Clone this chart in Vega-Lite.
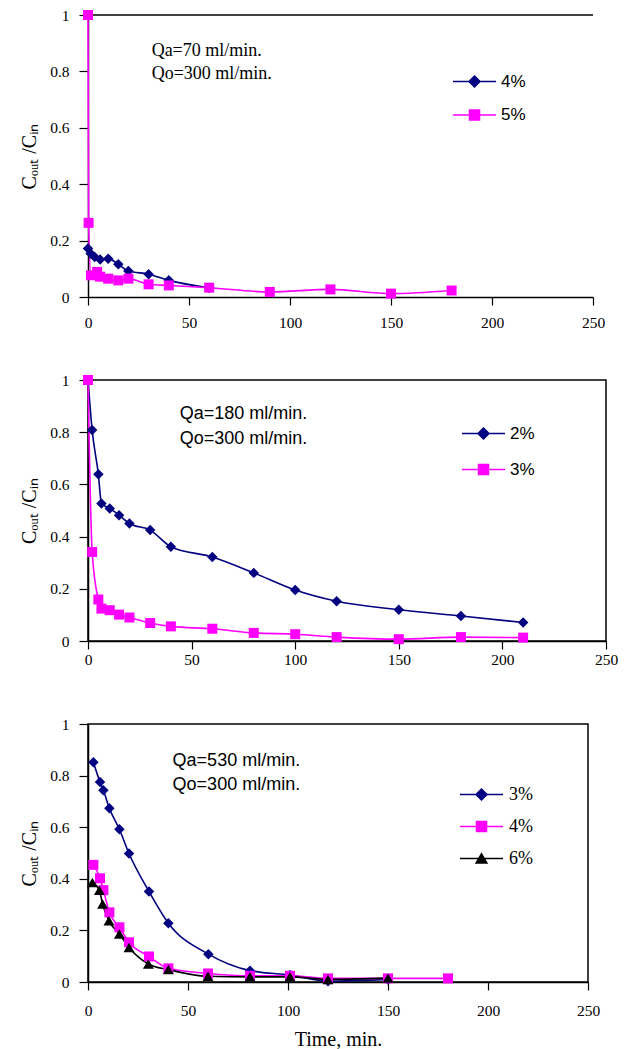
{
  "$schema": "https://vega.github.io/schema/vega-lite/v6.json",
  "padding": {"left": 18, "top": 8, "right": 5, "bottom": 2},
  "background": "white",
  "bounds": "flush",
  "spacing": 83,
  "datasets": {
    "p1": [
      {"t": 0, "c": 0.172, "s": "4%"}, {"t": 1.3, "c": 0.154, "s": "4%"}, {"t": 3.3, "c": 0.142, "s": "4%"},
      {"t": 6, "c": 0.133, "s": "4%"}, {"t": 10, "c": 0.136, "s": "4%"}, {"t": 15, "c": 0.116, "s": "4%"},
      {"t": 20, "c": 0.092, "s": "4%"}, {"t": 30, "c": 0.081, "s": "4%"}, {"t": 40, "c": 0.059, "s": "4%"},
      {"t": 60, "c": 0.033, "s": "4%"},
      {"t": 0, "c": 1.0, "s": "5%"}, {"t": 0.3, "c": 0.263, "s": "5%"}, {"t": 1.5, "c": 0.077, "s": "5%"},
      {"t": 4.5, "c": 0.089, "s": "5%"}, {"t": 6, "c": 0.072, "s": "5%"}, {"t": 10, "c": 0.065, "s": "5%"},
      {"t": 15, "c": 0.059, "s": "5%"}, {"t": 20, "c": 0.065, "s": "5%"}, {"t": 30, "c": 0.045, "s": "5%"},
      {"t": 40, "c": 0.041, "s": "5%"}, {"t": 60, "c": 0.033, "s": "5%"}, {"t": 90, "c": 0.018, "s": "5%"},
      {"t": 120, "c": 0.027, "s": "5%"}, {"t": 150, "c": 0.012, "s": "5%"}, {"t": 180, "c": 0.023, "s": "5%"}
    ],
    "p2": [
      {"t": 0, "c": 1.0, "s": "2%"}, {"t": 2, "c": 0.808, "s": "2%"}, {"t": 5, "c": 0.639, "s": "2%"},
      {"t": 6.5, "c": 0.527, "s": "2%"}, {"t": 10.5, "c": 0.508, "s": "2%"}, {"t": 15, "c": 0.482, "s": "2%"},
      {"t": 20, "c": 0.45, "s": "2%"}, {"t": 30, "c": 0.425, "s": "2%"}, {"t": 40, "c": 0.361, "s": "2%"},
      {"t": 60, "c": 0.322, "s": "2%"}, {"t": 80, "c": 0.261, "s": "2%"}, {"t": 100, "c": 0.195, "s": "2%"},
      {"t": 120, "c": 0.152, "s": "2%"}, {"t": 150, "c": 0.12, "s": "2%"}, {"t": 180, "c": 0.096, "s": "2%"},
      {"t": 210, "c": 0.071, "s": "2%"},
      {"t": 0, "c": 1.0, "s": "3%"}, {"t": 2, "c": 0.341, "s": "3%"}, {"t": 5, "c": 0.159, "s": "3%"},
      {"t": 6.5, "c": 0.124, "s": "3%"}, {"t": 10.5, "c": 0.118, "s": "3%"}, {"t": 15, "c": 0.101, "s": "3%"},
      {"t": 20, "c": 0.09, "s": "3%"}, {"t": 30, "c": 0.069, "s": "3%"}, {"t": 40, "c": 0.056, "s": "3%"},
      {"t": 60, "c": 0.047, "s": "3%"}, {"t": 80, "c": 0.031, "s": "3%"}, {"t": 100, "c": 0.026, "s": "3%"},
      {"t": 120, "c": 0.015, "s": "3%"}, {"t": 150, "c": 0.007, "s": "3%"}, {"t": 180, "c": 0.015, "s": "3%"},
      {"t": 210, "c": 0.013, "s": "3%"}
    ],
    "p3": [
      {"t": 2.7, "c": 0.852, "s": "3%"}, {"t": 6, "c": 0.775, "s": "3%"}, {"t": 7.7, "c": 0.743, "s": "3%"},
      {"t": 10.7, "c": 0.673, "s": "3%"}, {"t": 15.7, "c": 0.592, "s": "3%"}, {"t": 20.5, "c": 0.498, "s": "3%"},
      {"t": 30.5, "c": 0.351, "s": "3%"}, {"t": 40.2, "c": 0.228, "s": "3%"}, {"t": 60.2, "c": 0.108, "s": "3%"},
      {"t": 81, "c": 0.044, "s": "3%"}, {"t": 101, "c": 0.027, "s": "3%"}, {"t": 120, "c": 0.003, "s": "3%"},
      {"t": 150, "c": 0.01, "s": "3%"},
      {"t": 2.7, "c": 0.454, "s": "4%"}, {"t": 6, "c": 0.402, "s": "4%"}, {"t": 7.7, "c": 0.356, "s": "4%"},
      {"t": 10.7, "c": 0.27, "s": "4%"}, {"t": 15.7, "c": 0.212, "s": "4%"}, {"t": 20.5, "c": 0.154, "s": "4%"},
      {"t": 30.5, "c": 0.099, "s": "4%"}, {"t": 40.2, "c": 0.053, "s": "4%"}, {"t": 60, "c": 0.033, "s": "4%"},
      {"t": 81, "c": 0.024, "s": "4%"}, {"t": 101, "c": 0.024, "s": "4%"}, {"t": 120, "c": 0.014, "s": "4%"},
      {"t": 150, "c": 0.014, "s": "4%"}, {"t": 180, "c": 0.014, "s": "4%"},
      {"t": 2.2, "c": 0.386, "s": "6%"}, {"t": 5.7, "c": 0.356, "s": "6%"}, {"t": 7.3, "c": 0.302, "s": "6%"},
      {"t": 10.5, "c": 0.237, "s": "6%"}, {"t": 15.7, "c": 0.186, "s": "6%"}, {"t": 20.5, "c": 0.134, "s": "6%"},
      {"t": 30.2, "c": 0.07, "s": "6%"}, {"t": 40.2, "c": 0.048, "s": "6%"}, {"t": 60, "c": 0.022, "s": "6%"},
      {"t": 81, "c": 0.02, "s": "6%"}, {"t": 101, "c": 0.02, "s": "6%"}, {"t": 120, "c": 0.01, "s": "6%"},
      {"t": 150, "c": 0.015, "s": "6%"}
    ]
  },
  "resolve": {
    "scale": {"stroke": "independent"},
    "legend": {"stroke": "independent"}
  },
  "config": {
    "axis": {
      "grid": false, "domainColor": "black", "domainWidth": 1.5, "tickColor": "black", "tickWidth": 1.2,
      "labelFont": "Liberation Serif", "labelFontSize": 15.5, "labelColor": "black", "labelOverlap": false,
      "titleFont": "Liberation Serif", "titleFontSize": 20, "titleFontWeight": "normal", "titleColor": "black"
    },
    "legend": {"labelColor": "black"}
  },
  "vconcat": [
    {
      "width": 505, "height": 282,
      "view": {"stroke": null},
      "layer": [
        {
          "data": {"values": [{}]},
          "mark": {"type": "rule", "color": "black", "strokeWidth": 1.5},
          "encoding": {"y": {"datum": 1, "type": "quantitative", "scale": {"domain": [0, 1], "nice": false}, "title": "Cₒᵤₜ /Cᵢₙ"}}
        },
        {
          "data": {"name": "p1"},
          "mark": {"type": "line", "interpolate": "monotone", "strokeWidth": 1.6},
          "encoding": {
            "x": {"field": "t", "type": "quantitative", "title": null, "scale": {"domain": [0, 250], "nice": false},
              "axis": {"values": [0,50,100,150,200,250], "labelOverlap": false, "labelFlush": false, "tickSize": 8, "labelPadding": 10}},
            "y": {"field": "c", "type": "quantitative", "title": "Cₒᵤₜ /Cᵢₙ", "scale": {"domain": [0, 1], "nice": false},
              "axis": {"values": [0,0.2,0.4,0.6,0.8,1], "format": "~g", "labelOverlap": false, "labelFlush": false, "tickSize": 9, "labelPadding": 10, "titlePadding": 10}},
            "stroke": {"field": "s", "type": "nominal", "scale": {"domain": ["4%", "5%"], "range": ["#000080", "#ff00ff"]},
              "legend": {"orient": "none", "legendX": 364, "legendY": 44, "title": null, "padding": 0,
                "symbolSize": 1849, "symbolStrokeWidth": 1.5, "labelFont": "Liberation Sans", "labelFontSize": 17,
                "labelOffset": 4, "rowPadding": 1.5,
                "encode": {"symbols": {"update": {
                  "shape": {"signal": "datum.value === '4%' ? 'M-1,0L1,0M0,-0.256L0.256,0L0,0.256L-0.256,0Z' : 'M-1,0L1,0M-0.233,-0.233L0.233,-0.233L0.233,0.233L-0.233,0.233Z'"},
                  "fill": {"signal": "datum.value === '4%' ? '#000080' : '#ff00ff'"}}}}}}
          }
        },
        {
          "data": {"name": "p1"},
          "transform": [{"filter": "datum.s === '4%'"}],
          "mark": {"type": "point", "filled": true, "opacity": 1, "size": 110, "shape": "diamond", "color": "#000080"},
          "encoding": {
            "x": {"field": "t", "type": "quantitative", "title": null},
            "y": {"field": "c", "type": "quantitative", "title": "Cₒᵤₜ /Cᵢₙ"}
          }
        },
        {
          "data": {"name": "p1"},
          "transform": [{"filter": "datum.s === '5%'"}],
          "mark": {"type": "point", "filled": true, "opacity": 1, "size": 100, "shape": "square", "color": "#ff00ff"},
          "encoding": {
            "x": {"field": "t", "type": "quantitative", "title": null},
            "y": {"field": "c", "type": "quantitative", "title": "Cₒᵤₜ /Cᵢₙ"}
          }
        },
        {
          "data": {"values": [{}]},
          "mark": {"type": "text", "text": ["Qa=70 ml/min.", "Qo=300 ml/min."], "lineHeight": 23, "align": "left", "baseline": "alphabetic",
            "font": "Liberation Serif", "fontSize": 18, "color": "black"},
          "encoding": {"x": {"datum": 31.5, "type": "quantitative", "title": null}, "y": {"datum": 0.854, "type": "quantitative", "title": "Cₒᵤₜ /Cᵢₙ"}}
        }
      ]
    },
    {
      "width": 518, "height": 261,
      "view": {"stroke": "black", "strokeWidth": 1.5},
      "layer": [
        {
          "data": {"name": "p2"},
          "mark": {"type": "line", "interpolate": "monotone", "strokeWidth": 1.6},
          "encoding": {
            "x": {"field": "t", "type": "quantitative", "title": null, "scale": {"domain": [0, 250], "nice": false},
              "axis": {"values": [0,50,100,150,200,250], "labelOverlap": false, "labelFlush": false, "tickSize": 8, "labelPadding": 3}},
            "y": {"field": "c", "type": "quantitative", "title": "Cₒᵤₜ /Cᵢₙ", "scale": {"domain": [0, 1], "nice": false},
              "axis": {"values": [0,0.2,0.4,0.6,0.8,1], "format": "~g", "labelOverlap": false, "labelFlush": false, "tickSize": 9, "labelPadding": 10, "titlePadding": 10}},
            "stroke": {"field": "s", "type": "nominal", "scale": {"domain": ["2%", "3%"], "range": ["#000080", "#ff00ff"]},
              "legend": {"orient": "none", "legendX": 373, "legendY": 31, "title": null, "padding": 0,
                "symbolSize": 1849, "symbolStrokeWidth": 1.5, "labelFont": "Liberation Sans", "labelFontSize": 17,
                "labelOffset": 4, "rowPadding": 4,
                "encode": {"symbols": {"update": {
                  "shape": {"signal": "datum.value === '2%' ? 'M-1,0L1,0M0,-0.256L0.256,0L0,0.256L-0.256,0Z' : 'M-1,0L1,0M-0.233,-0.233L0.233,-0.233L0.233,0.233L-0.233,0.233Z'"},
                  "fill": {"signal": "datum.value === '2%' ? '#000080' : '#ff00ff'"}}}}}}
          }
        },
        {
          "data": {"name": "p2"},
          "transform": [{"filter": "datum.s === '2%'"}],
          "mark": {"type": "point", "filled": true, "opacity": 1, "size": 110, "shape": "diamond", "color": "#000080"},
          "encoding": {
            "x": {"field": "t", "type": "quantitative", "title": null},
            "y": {"field": "c", "type": "quantitative", "title": "Cₒᵤₜ /Cᵢₙ"}
          }
        },
        {
          "data": {"name": "p2"},
          "transform": [{"filter": "datum.s === '3%'"}],
          "mark": {"type": "point", "filled": true, "opacity": 1, "size": 100, "shape": "square", "color": "#ff00ff"},
          "encoding": {
            "x": {"field": "t", "type": "quantitative", "title": null},
            "y": {"field": "c", "type": "quantitative", "title": "Cₒᵤₜ /Cᵢₙ"}
          }
        },
        {
          "data": {"values": [{}]},
          "mark": {"type": "text", "text": ["Qa=180 ml/min.", "Qo=300 ml/min."], "lineHeight": 25, "align": "left", "baseline": "alphabetic",
            "font": "Liberation Sans", "fontSize": 18, "color": "black"},
          "encoding": {"x": {"datum": 44.3, "type": "quantitative", "title": null}, "y": {"datum": 0.849, "type": "quantitative", "title": "Cₒᵤₜ /Cᵢₙ"}}
        }
      ]
    },
    {
      "width": 500, "height": 258,
      "view": {"stroke": "black", "strokeWidth": 1.5},
      "layer": [
        {
          "data": {"name": "p3"},
          "mark": {"type": "line", "interpolate": "monotone", "strokeWidth": 1.6},
          "encoding": {
            "x": {"field": "t", "type": "quantitative", "title": "Time, min.", "scale": {"domain": [0, 250], "nice": false},
              "axis": {"values": [0,50,100,150,200,250], "labelOverlap": false, "labelFlush": false, "tickSize": 8, "labelPadding": 13, "titlePadding": 11}},
            "y": {"field": "c", "type": "quantitative", "title": "Cₒᵤₜ /Cᵢₙ", "scale": {"domain": [0, 1], "nice": false},
              "axis": {"values": [0,0.2,0.4,0.6,0.8,1], "format": "~g", "labelOverlap": false, "labelFlush": false, "tickSize": 9, "labelPadding": 10, "titlePadding": 10}},
            "stroke": {"field": "s", "type": "nominal", "scale": {"domain": ["3%", "4%", "6%"], "range": ["#000080", "#ff00ff", "#000000"]},
              "legend": {"orient": "none", "legendX": 371, "legendY": 48, "title": null, "padding": 0,
                "symbolSize": 1849, "symbolStrokeWidth": 1.5, "labelFont": "Liberation Serif", "labelFontSize": 18,
                "labelOffset": 5, "rowPadding": 0,
                "encode": {"symbols": {"update": {
                  "shape": {"signal": "datum.value === '3%' ? 'M-1,0L1,0M0,-0.256L0.256,0L0,0.256L-0.256,0Z' : datum.value === '4%' ? 'M-1,0L1,0M-0.233,-0.233L0.233,-0.233L0.233,0.233L-0.233,0.233Z' : 'M-1,0L1,0M0,-0.22L0.25,0.21L-0.25,0.21Z'"},
                  "fill": {"signal": "datum.value === '3%' ? '#000080' : datum.value === '4%' ? '#ff00ff' : '#000000'"}}}}}}
          }
        },
        {
          "data": {"name": "p3"},
          "transform": [{"filter": "datum.s === '3%'"}],
          "mark": {"type": "point", "filled": true, "opacity": 1, "size": 110, "shape": "diamond", "color": "#000080"},
          "encoding": {
            "x": {"field": "t", "type": "quantitative", "title": "Time, min."},
            "y": {"field": "c", "type": "quantitative", "title": "Cₒᵤₜ /Cᵢₙ"}
          }
        },
        {
          "data": {"name": "p3"},
          "transform": [{"filter": "datum.s === '4%'"}],
          "mark": {"type": "point", "filled": true, "opacity": 1, "size": 100, "shape": "square", "color": "#ff00ff"},
          "encoding": {
            "x": {"field": "t", "type": "quantitative", "title": "Time, min."},
            "y": {"field": "c", "type": "quantitative", "title": "Cₒᵤₜ /Cᵢₙ"}
          }
        },
        {
          "data": {"name": "p3"},
          "transform": [{"filter": "datum.s === '6%'"}],
          "mark": {"type": "point", "filled": true, "opacity": 1, "size": 120, "shape": "triangle-up", "color": "#000000"},
          "encoding": {
            "x": {"field": "t", "type": "quantitative", "title": "Time, min."},
            "y": {"field": "c", "type": "quantitative", "title": "Cₒᵤₜ /Cᵢₙ"}
          }
        },
        {
          "data": {"values": [{}]},
          "mark": {"type": "text", "text": ["Qa=530 ml/min.", "Qo=300 ml/min."], "lineHeight": 23.5, "align": "left", "baseline": "alphabetic",
            "font": "Liberation Sans", "fontSize": 18, "color": "black"},
          "encoding": {"x": {"datum": 42.3, "type": "quantitative", "title": "Time, min."}, "y": {"datum": 0.837, "type": "quantitative", "title": "Cₒᵤₜ /Cᵢₙ"}}
        }
      ]
    }
  ]
}
